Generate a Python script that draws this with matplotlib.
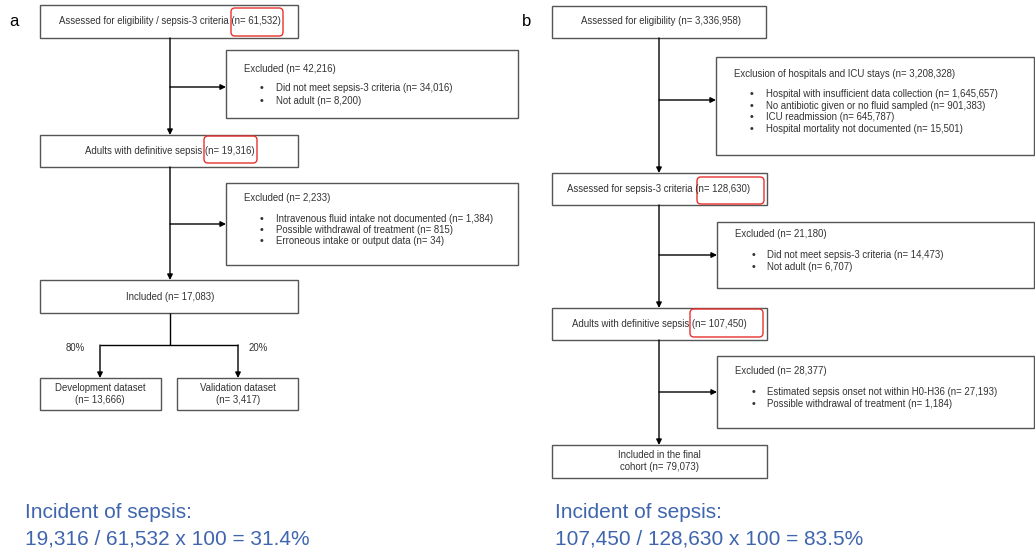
import matplotlib
matplotlib.use('Agg')
import matplotlib.pyplot as plt
from matplotlib.patches import Rectangle, FancyBboxPatch

plt.rcParams['font.family'] = ['Liberation Sans', 'DejaVu Sans']

# ---- flowchart content ----
a_steps = ['Assessed for eligibility / sepsis-3 criteria (n= 61,532)',
           'Adults with definitive sepsis (n= 19,316)',
           'Included (n= 17,083)']
a_excl_titles = ['Excluded (n= 42,216)', 'Excluded (n= 2,233)']
a_excl_items = [['Did not meet sepsis-3 criteria (n= 34,016)', 'Not adult (n= 8,200)'],
                ['Intravenous fluid intake not documented (n= 1,384)',
                 'Possible withdrawal of treatment (n= 815)',
                 'Erroneous intake or output data (n= 34)']]
a_split_pct = ['80%', '20%']
a_split_boxes = ['Development dataset\n(n= 13,666)', 'Validation dataset\n(n= 3,417)']

b_steps = ['Assessed for eligibility (n= 3,336,958)',
           'Assessed for sepsis-3 criteria (n= 128,630)',
           'Adults with definitive sepsis (n= 107,450)',
           'Included in the final\ncohort (n= 79,073)']
b_excl_titles = ['Exclusion of hospitals and ICU stays (n= 3,208,328)',
                 'Excluded (n= 21,180)', 'Excluded (n= 28,377)']
b_excl_items = [['Hospital with insufficient data collection (n= 1,645,657)',
                 'No antibiotic given or no fluid sampled (n= 901,383)',
                 'ICU readmission (n= 645,787)',
                 'Hospital mortality not documented (n= 15,501)'],
                ['Did not meet sepsis-3 criteria (n= 14,473)', 'Not adult (n= 6,707)'],
                ['Estimated sepsis onset not within H0-H36 (n= 27,193)',
                 'Possible withdrawal of treatment (n= 1,184)']]

incidence = [('Incident of sepsis:', '19,316 / 61,532 x 100 = 31.4%'),
             ('Incident of sepsis:', '107,450 / 128,630 x 100 = 83.5%')]

TXT = '#333333'
EDGE = '#555555'
FS = 6.9

fig = plt.figure(figsize=(10.35, 5.5), dpi=100)
ax = fig.add_axes([0, 0, 1, 1])
ax.set_xlim(0, 1035)
ax.set_ylim(550, 0)
ax.axis('off')


def box(x0, y0, x1, y1):
    ax.add_patch(Rectangle((x0, y0), x1 - x0, y1 - y0, fill=False, ec=EDGE, lw=1.0))


def red(x0, y0, x1, y1):
    ax.add_patch(FancyBboxPatch((x0, y0), x1 - x0, y1 - y0,
                                boxstyle='round,pad=0,rounding_size=4',
                                fill=False, ec='#e8322e', lw=1.0))


def arrow(x0, y0, x1, y1):
    ax.annotate('', xy=(x1, y1), xytext=(x0, y0),
                arrowprops=dict(arrowstyle='-|>', color='black', lw=1.0,
                                mutation_scale=8, shrinkA=0, shrinkB=0))


def line(xs, ys):
    ax.plot(xs, ys, color='black', lw=1.0, solid_capstyle='butt')


def excl_box(x0, y0, x1, y1, title, items, ty, iy, dy=11.5):
    box(x0, y0, x1, y1)
    ax.text(x0 + 18, ty, title, fontsize=FS, color=TXT, va='center', ha='left')
    for i, it in enumerate(items):
        ax.text(x0 + 36, iy + i * dy, '\u2022', fontsize=FS + 1, color=TXT, va='center', ha='center')
        ax.text(x0 + 50, iy + i * dy, it, fontsize=FS, color=TXT, va='center', ha='left')


# ---- panel a ----
ax.text(14, 22, 'a', fontsize=12, va='center', ha='center')
cx = 170
box(40, 5, 298, 38)
ax.text(cx, 21, a_steps[0], fontsize=FS, color=TXT, va='center', ha='center')
red(231, 8, 283, 36)
excl_box(226, 50, 518, 118, a_excl_titles[0], a_excl_items[0], 69, 88, 13)
arrow(cx, 87, 226, 87)
arrow(cx, 38, cx, 135)

box(40, 135, 298, 167)
ax.text(cx, 151, a_steps[1], fontsize=FS, color=TXT, va='center', ha='center')
red(204, 136, 257, 163)
excl_box(226, 183, 518, 265, a_excl_titles[1], a_excl_items[1], 198, 219, 11)
arrow(cx, 224, 226, 224)
arrow(cx, 167, cx, 280)

box(40, 280, 298, 313)
ax.text(cx, 297, a_steps[2], fontsize=FS, color=TXT, va='center', ha='center')
line([cx, cx], [313, 345])
line([100, 238], [345, 345])
arrow(100, 345, 100, 378)
arrow(238, 345, 238, 378)
ax.text(75, 348, a_split_pct[0], fontsize=FS, color=TXT, va='center', ha='center')
ax.text(258, 348, a_split_pct[1], fontsize=FS, color=TXT, va='center', ha='center')
box(40, 378, 161, 410)
ax.text(100, 394, a_split_boxes[0], fontsize=FS, color=TXT, va='center', ha='center', linespacing=1.2)
box(177, 378, 298, 410)
ax.text(238, 394, a_split_boxes[1], fontsize=FS, color=TXT, va='center', ha='center', linespacing=1.2)

# ---- panel b ----
ax.text(527, 22, 'b', fontsize=12, va='center', ha='center')
bx = 659
box(552, 6, 766, 38)
ax.text(661, 21, b_steps[0], fontsize=FS, color=TXT, va='center', ha='center')
excl_box(716, 57, 1034, 155, b_excl_titles[0], b_excl_items[0], 74, 94, 11.6)
arrow(bx, 100, 716, 100)
arrow(bx, 38, bx, 173)

box(552, 173, 767, 205)
ax.text(bx, 189, b_steps[1], fontsize=FS, color=TXT, va='center', ha='center')
red(697, 177, 764, 204)
excl_box(717, 222, 1034, 288, b_excl_titles[1], b_excl_items[1], 234, 255, 12)
arrow(bx, 255, 717, 255)
arrow(bx, 205, bx, 308)

box(552, 308, 767, 340)
ax.text(bx, 324, b_steps[2], fontsize=FS, color=TXT, va='center', ha='center')
red(690, 309, 763, 337)
excl_box(717, 356, 1034, 428, b_excl_titles[2], b_excl_items[2], 371, 392, 12)
arrow(bx, 392, 717, 392)
arrow(bx, 340, bx, 445)

box(552, 445, 767, 478)
ax.text(bx, 461, b_steps[3], fontsize=FS, color=TXT, va='center', ha='center', linespacing=1.2)

# ---- incidence notes ----
for (l1, l2), x in zip(incidence, [25, 555]):
    ax.text(x, 512, l1, fontsize=15, color='#3f65ae', va='center', ha='left')
    ax.text(x, 539, l2, fontsize=15, color='#3f65ae', va='center', ha='left')

fig.savefig('out.png', dpi=100)
